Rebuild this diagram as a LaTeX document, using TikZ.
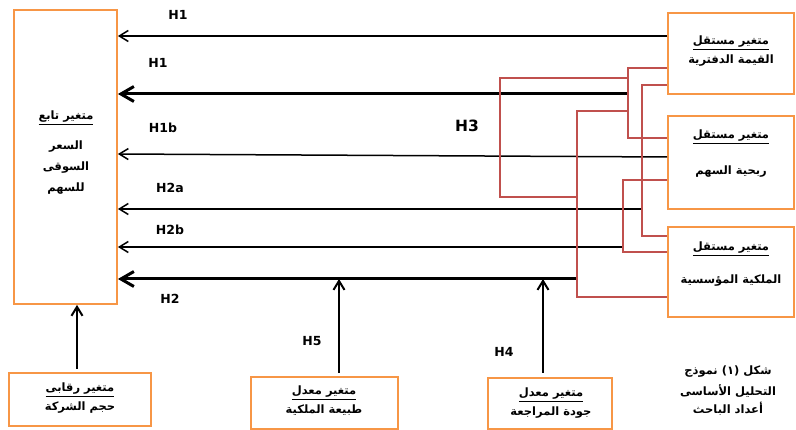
\documentclass[tikz,border=0pt]{standalone}
\usepackage{fontspec}
\usetikzlibrary{arrows.meta}
\setmainfont{Liberation Sans}
\newfontfamily\labelfont{DejaVu Sans}
\newfontfamily\arabicfont[Script=Arabic]{DejaVu Sans}
\TeXXeTstate=1
\newcommand{\artxt}[1]{{\arabicfont\bfseries\beginR #1\endR}}
\newcommand{\artitle}[1]{\underline{\artxt{#1}}}
\definecolor{boxorange}{HTML}{F79646}
\definecolor{linkred}{HTML}{C0504D}
\tikzset{
  box/.style={draw=boxorange, line width=1.8pt, inner sep=0pt},
  artext/.style={font=\fontsize{11.5}{13}\selectfont, inner sep=0pt},
  hlabel/.style={font=\labelfont\bfseries\fontsize{12.5}{14}\selectfont, inner sep=0pt},
  thinarrow/.style={line width=1.5pt, -{Straight Barb[length=9pt,width=11pt]}},
  thickarrow/.style={line width=3pt, -{Straight Barb[length=13pt,width=15pt]}},
  redlink/.style={draw=linkred, line width=2pt}
}
\begin{document}
\begin{tikzpicture}[x=1pt,y=-1pt]
  \useasboundingbox (0,0) rectangle (796,430);

  \node[box, minimum width=103pt, minimum height=294pt] (dep) at (65.5,157) {};
  \node[box, minimum width=126pt, minimum height=81pt] (bv) at (731,53.5) {};
  \node[box, minimum width=126pt, minimum height=93pt] (prof) at (731,162.5) {};
  \node[box, minimum width=126pt, minimum height=90pt] (inst) at (731,272) {};
  \node[box, minimum width=142pt, minimum height=53pt] (size) at (80,399.5) {};
  \node[box, minimum width=147pt, minimum height=52pt] (own) at (324.5,403) {};
  \node[box, minimum width=124pt, minimum height=51pt] (aud) at (550,403.5) {};

  \node[artext] (dept) at (66,118) {\artitle{متغير تابع}};
  \node[artext] (dep1) at (66,147) {\artxt{السعر}};
  \node[artext] (dep2) at (66,168) {\artxt{السوقى}};
  \node[artext] (dep3) at (66,189) {\artxt{للسهم}};

  \node[artext] (bvt) at (731,43) {\artitle{متغير مستقل}};
  \node[artext] (bv1) at (731,61) {\artxt{القيمة الدفترية}};
  \node[artext] (proft) at (731,137) {\artitle{متغير مستقل}};
  \node[artext] (prof1) at (731,172) {\artxt{ربحية السهم}};
  \node[artext] (instt) at (731,249) {\artitle{متغير مستقل}};
  \node[artext] (inst1) at (731,281) {\artxt{الملكية المؤسسية}};

  \node[artext] (sizet) at (80,390) {\artitle{متغير رقابى}};
  \node[artext] (size1) at (80,408) {\artxt{حجم الشركة}};
  \node[artext] (ownt) at (324,393) {\artitle{متغير معدل}};
  \node[artext] (own1) at (324,410) {\artxt{طبيعة الملكية}};
  \node[artext] (audt) at (551,395) {\artitle{متغير معدل}};
  \node[artext] (aud1) at (551,413) {\artxt{جودة المراجعة}};

  \node[artext] (cap1) at (728,372) {\artxt{شكل (١) نموذج}};
  \node[artext] (cap2) at (728,391) {\artxt{التحليل الأساسى}};
  \node[artext] (cap3) at (728,409) {\artxt{أعداد الباحث}};

  \node[hlabel] (h1a) at (178,15) {H1};
  \node[hlabel] (h1b) at (158,63) {H1};
  \node[hlabel] (h1c) at (163,128) {H1b};
  \node[hlabel] (h2a) at (170,188) {H2a};
  \node[hlabel] (h2b) at (170,230) {H2b};
  \node[hlabel] (h2) at (170,299) {H2};
  \node[hlabel, font=\labelfont\bfseries\fontsize{15.5}{17}\selectfont] (h3) at (467,126) {H3};
  \node[hlabel] (h5) at (312,341) {H5};
  \node[hlabel] (h4) at (504,352) {H4};

  \coordinate (a1) at (bv.west |- 0,36);
  \coordinate (a3) at (prof.west |- 0,157);
  \coordinate (j1) at (628,94);
  \coordinate (j4) at (642,209);
  \coordinate (j5) at (623,247);
  \coordinate (j3) at (577,279);
  \coordinate (b1) at (dep.east |- a1);
  \coordinate (b3) at (dep.east |- 0,154);
  \coordinate (c1) at (dep.east |- j1);
  \coordinate (c4) at (dep.east |- j4);
  \coordinate (c5) at (dep.east |- j5);
  \coordinate (c3) at (dep.east |- j3);
  \coordinate (v1) at (77,369);
  \coordinate (v2) at (339,373);
  \coordinate (v3) at (543,373);

  \foreach \from/\to in {a1/b1, a3/b3, j4/c4, j5/c5}
    \draw[thinarrow] (\from) -- (\to);
  \foreach \from/\to in {j1/c1, j3/c3}
    \draw[thickarrow] (\from) -- (\to);
  \draw[thinarrow, line width=2pt] (v1) -- (v1 |- dep.south);
  \foreach \from in {v2, v3}
    \draw[thinarrow, line width=2pt] (\from) -- (\from |- j3);

  \draw[redlink] (bv.west |- 0,68) -- (628,68) -- (628,138) -- (prof.west |- 0,138);
  \draw[redlink] (628,78) -- (500,78) -- (500,197) -- (577,197);
  \draw[redlink] (628,111) -- (577,111) -- (577,297) -- (inst.west |- 0,297);
  \draw[redlink] (bv.west |- 0,85) -- (642,85) -- (642,236) -- (inst.west |- 0,236);
  \draw[redlink] (prof.west |- 0,180) -- (623,180) -- (623,252) -- (inst.west |- 0,252);
\end{tikzpicture}
\end{document}
